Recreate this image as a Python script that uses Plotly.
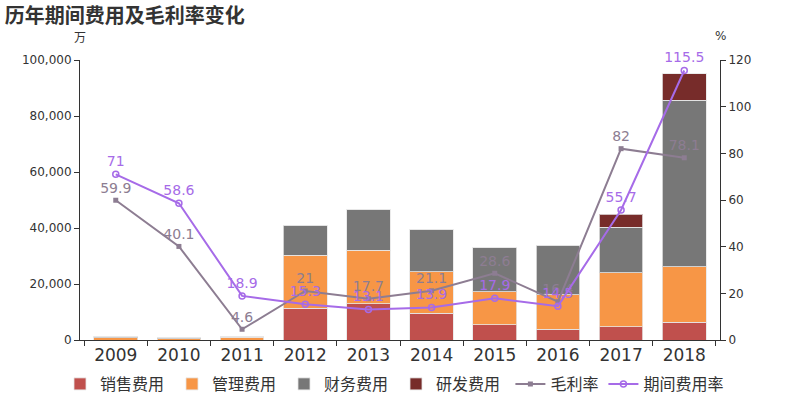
import plotly.graph_objects as go

years = ["2009", "2010", "2011", "2012", "2013", "2014", "2015", "2016", "2017", "2018"]
sales = [0, 0, 0, 11300, 12900, 9500, 5400, 3800, 4800, 6300]
admin = [800, 500, 900, 19000, 19200, 14900, 11900, 12300, 19200, 19900]
finance = [300, 300, 200, 10700, 14500, 14900, 15700, 17800, 16200, 59500]
rnd = [0, 0, 0, 0, 0, 0, 0, 0, 4700, 9400]
gross_margin = [59.9, 40.1, 4.6, 21, 17.7, 21.1, 28.6, 16.4, 82, 78.1]
expense_rate = [71, 58.6, 18.9, 15.3, 13.1, 13.9, 17.9, 14.5, 55.7, 115.5]

FONT = "DejaVu Sans, Noto Sans CJK SC, sans-serif"
CJK = "Noto Sans CJK SC, sans-serif"
bar_line = dict(color="rgba(230,230,230,0.8)", width=1)

fig = go.Figure()
for name, vals, col in [("销售费用", sales, "#c0504d"), ("管理费用", admin, "#f79646"),
                        ("财务费用", finance, "#777777"), ("研发费用", rnd, "#772c2a")]:
    fig.add_trace(go.Bar(x=years, y=vals, name=name, marker=dict(color=col, line=bar_line),
                         width=0.69, legend="legend"))

fig.add_trace(go.Scatter(x=years, y=gross_margin, name="毛利率", yaxis="y2", legend="legend2",
                         mode="lines+markers+text", text=[str(v) for v in gross_margin],
                         textposition="top center", cliponaxis=False,
                         textfont=dict(color="#8d7d92", size=14, family=FONT),
                         line=dict(color="#8d7d92", width=2),
                         marker=dict(symbol="square", size=5, color="#8d7d92")))
fig.add_trace(go.Scatter(x=years, y=expense_rate, name="期间费用率", yaxis="y2", legend="legend2",
                         mode="lines+markers+text", text=[str(v) for v in expense_rate],
                         textposition="top center", cliponaxis=False,
                         textfont=dict(color="#a66be8", size=14, family=FONT),
                         line=dict(color="#a66be8", width=2),
                         marker=dict(symbol="circle-open", size=6, color="#a66be8",
                                     line=dict(width=1.5))))

legend_common = dict(orientation="h", xref="container", yref="container",
                     xanchor="left", y=0.04, yanchor="middle",
                     font=dict(size=16, family=CJK, color="#333"),
                     itemwidth=30, traceorder="normal",
                     bgcolor="rgba(0,0,0,0)")

fig.update_layout(
    width=800, height=400, barmode="stack", bargap=0.31,
    margin=dict(l=80, r=80, t=60, b=60, autoexpand=False),
    paper_bgcolor="white", plot_bgcolor="white",
    font=dict(family=FONT, color="#333333", size=12),
    title=dict(text="<b>历年期间费用及毛利率变化</b>", x=0.006, xanchor="left", y=0.96,
               yanchor="middle", font=dict(size=20, color="#333333", family=CJK)),
    showlegend=True,
    legend=dict(legend_common, x=0.075, entrywidth=67, entrywidthmode="pixels"),
    legend2=dict(legend_common, x=0.638),
    xaxis=dict(type="category", showline=True, linecolor="#333", linewidth=1,
               ticks="outside", ticklen=5, tickcolor="#333", tickson="boundaries",
               tickfont=dict(size=17, color="#333"), showgrid=False),
    yaxis=dict(range=[0, 100000], dtick=20000, tickformat=",", showline=True,
               linecolor="#333", ticks="outside", ticklen=5, tickcolor="#333",
               showgrid=False, zeroline=False, tickfont=dict(size=12, color="#333")),
    yaxis2=dict(range=[0, 120], dtick=20, overlaying="y", side="right", showline=True,
                linecolor="#333", ticks="outside", ticklen=5, tickcolor="#333",
                showgrid=False, zeroline=False, tickfont=dict(size=12, color="#333")),
    annotations=[
        dict(text="万", xref="paper", yref="paper", x=0, y=1.085, xanchor="center",
             yanchor="middle", showarrow=False, font=dict(size=12, color="#333", family=CJK)),
        dict(text="%", xref="paper", yref="paper", x=1, y=1.085, xanchor="center",
             yanchor="middle", showarrow=False, font=dict(size=12, color="#333")),
    ],
)

fig.write_html("out.html")
